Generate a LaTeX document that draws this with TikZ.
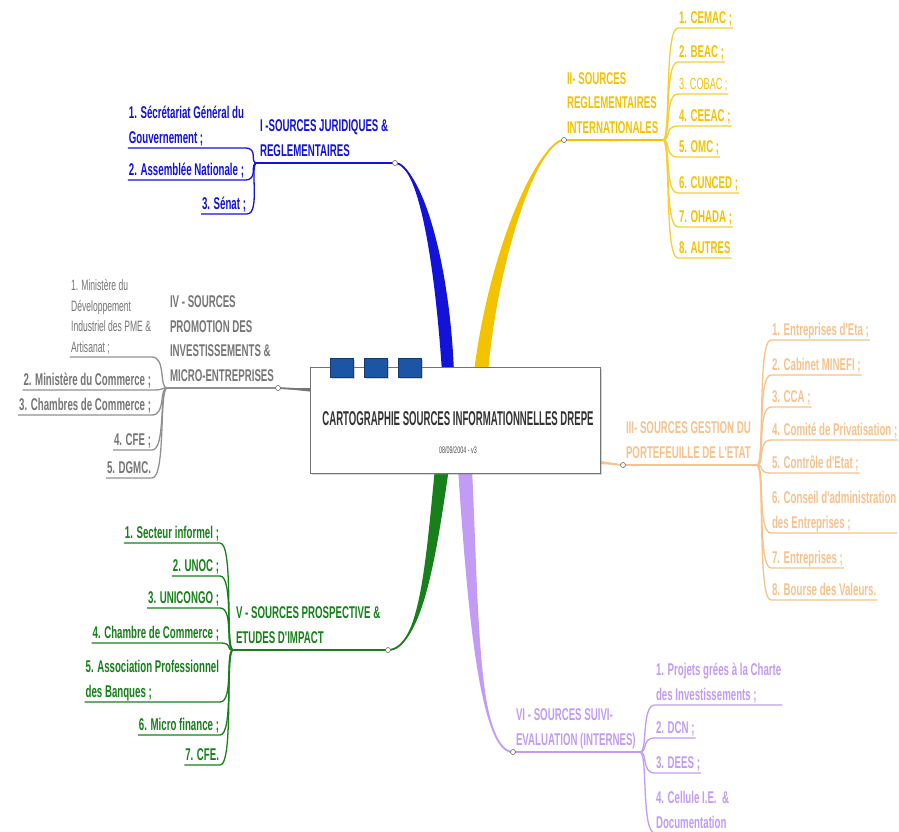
\documentclass[tikz,border=0pt]{standalone}
\usepackage{fontspec}
\setmainfont{Liberation Sans}
\newfontfamily\narrowfont[FakeStretch=0.57]{Liberation Sans}
\newfontfamily\titlenarrow[FakeStretch=0.48]{Liberation Sans}
\usetikzlibrary{positioning,shadows}

\definecolor{jurcol}{HTML}{1212D8}
\definecolor{intlcol}{HTML}{F4C300}
\definecolor{promocol}{HTML}{767676}
\definecolor{portcol}{HTML}{F8C28C}
\definecolor{prospcol}{HTML}{17801A}
\definecolor{suivicol}{HTML}{C29CF4}
\definecolor{tabblue}{HTML}{1C55A3}

\newcommand\leaffont{\narrowfont\bfseries\fontsize{17}{24.5}\selectfont}
\newcommand\smallleaf{\narrowfont\fontsize{15}{20.5}\selectfont}

\tikzset{
  leaf/.style={font=\leaffont, inner xsep=1pt, inner ysep=1pt, outer sep=0pt,
    execute at end node={\rule[-4pt]{0pt}{4pt}}},
  leafr/.style={leaf, anchor=south west, align=left},
  leafl/.style={leaf, anchor=south east},
  head/.style={leaf, anchor=south west, align=left,
    execute at end node={\rule[-6pt]{0pt}{6pt}}},
  twig/.style={line width=1.3pt},
  stem/.style={line width=1.8pt},
  knot/.style={circle, draw=black!60, fill=white, inner sep=0pt, minimum size=5pt, line width=0.6pt},
  tab/.style={draw=tabblue!70!black, fill=tabblue, minimum width=23pt, minimum height=19pt, inner sep=0pt,
    drop shadow={shadow xshift=1.5pt, shadow yshift=-1.5pt, opacity=.35}}
}

\begin{document}
\begin{tikzpicture}[x=1pt,y=-1pt]
\useasboundingbox[fill=white] (0,0) rectangle (899,831);

% anchor points of the six branches
\coordinate (jurdot) at (395,163);   \coordinate (jurfork) at (257,163);   \coordinate (jurroot) at (448,372);
\coordinate (intldot) at (564,140);  \coordinate (intlfork) at (663,140);  \coordinate (intlroot) at (481,372);
\coordinate (promodot) at (278,388); \coordinate (promofork) at (167,388); \coordinate (promoroot) at (314,390);
\coordinate (portdot) at (623,465);  \coordinate (portfork) at (757,465);  \coordinate (portroot) at (596,462);
\coordinate (prospdot) at (388,650); \coordinate (prospfork) at (233,650); \coordinate (prosproot) at (442,468);
\coordinate (suividot) at (513,752); \coordinate (suivifork) at (640,752); \coordinate (suiviroot) at (465,468);

% thick stems to the centre
\fill[jurcol] (jurdot) .. controls +(22,0) and +(-8,-120) .. ([xshift=-6pt]jurroot)
  -- ([xshift=6pt]jurroot) .. controls +(-5,-120) and +(24,2) .. (jurdot) -- cycle;
\fill[intlcol] (intldot) .. controls +(-24,0) and +(11,-122) .. ([xshift=7pt]intlroot)
  -- ([xshift=-7pt]intlroot) .. controls +(15,-122) and +(-27,2) .. (intldot) -- cycle;
\fill[prospcol] (prospdot) .. controls +(32,0) and +(-9,90) .. ([xshift=-7pt]prosproot)
  -- ([xshift=7pt]prosproot) .. controls +(-13,90) and +(34,-2) .. (prospdot) -- cycle;
\fill[suivicol] (suividot) .. controls +(-33,0) and +(10,150) .. ([xshift=-7pt]suiviroot)
  -- ([xshift=7pt]suiviroot) .. controls +(7,150) and +(-35,-2) .. (suividot) -- cycle;
\fill[promocol] (promodot) -- ([yshift=-2pt]promoroot) -- ([yshift=2pt]promoroot) -- cycle;
\fill[portcol] (portdot) -- ([yshift=-2pt]portroot) -- ([yshift=2pt]portroot) -- cycle;
\draw[jurcol, stem] (jurdot) .. controls +(22,0) and +(-6,-120) .. (jurroot);
\draw[intlcol, stem] (intldot) .. controls +(-24,0) and +(13,-122) .. (intlroot);
\draw[prospcol, stem] (prospdot) .. controls +(32,0) and +(-11,90) .. (prosproot);
\draw[suivicol, stem] (suividot) .. controls +(-33,0) and +(8,150) .. (suiviroot);
\draw[promocol, stem] (promodot) -- (promoroot);
\draw[portcol, stem] (portdot) -- (portroot);

% centre box
\node[draw=black!55, fill=white, minimum width=290pt, minimum height=106pt,
  drop shadow={shadow xshift=2pt, shadow yshift=-2pt, opacity=.3}] (map) at (455,420) {};
\node[tab] (tab1) at (341.5,367.5) {};
\node[tab] (tab2) at (376,367.5) {};
\node[tab] (tab3) at (409.5,367.5) {};
\node[font=\titlenarrow\bfseries\fontsize{20}{22}\selectfont, text=black!80] (maptitle) at (458,419)
  {CARTOGRAPHIE SOURCES INFORMATIONNELLES DREPE};
\node[font=\narrowfont\fontsize{9.5}{10}\selectfont, text=black!70] (mapdate) at (458,450) {08/09/2004 - v3};

% I - juridiques
\draw[jurcol, stem] (jurfork) -- (jurdot);
\node[head, text=jurcol] (jurhead) at ([xshift=2pt]jurfork) {I -SOURCES JURIDIQUES \&\\REGLEMENTAIRES};
\node[leafl, align=left, text=jurcol] (jur1) at (245,148) {1. Sécrétariat Général du\\Gouvernement ;};
\node[leafl, text=jurcol] (jur2) at (245,180) {2. Assemblée Nationale ;};
\node[leafl, text=jurcol] (jur3) at (247,214) {3. Sénat ;};
\foreach \i in {1,...,3}
  \draw[jurcol, twig] (jurfork) .. controls +(-8,0) and +(14,0) .. (jur\i.south east) -- (jur\i.south west);

% II - internationales
\draw[intlcol, stem] (intldot) -- (intlfork);
\node[head, text=intlcol] (intlhead) at ([xshift=2pt]intldot) {II- SOURCES\\REGLEMENTAIRES\\INTERNATIONALES};
\node[leafr, text=intlcol] (intl1) at (678,28) {1. CEMAC ;};
\node[leafr, text=intlcol] (intl2) at (678,62) {2. BEAC ;};
\node[leafr, text=intlcol, font=\narrowfont\fontsize{16}{20}\selectfont] (intl3) at (678,94) {3. COBAC ;};
\node[leafr, text=intlcol] (intl4) at (678,126) {4. CEEAC ;};
\node[leafr, text=intlcol] (intl5) at (678,157) {5. OMC ;};
\node[leafr, text=intlcol] (intl6) at (678,193) {6. CUNCED ;};
\node[leafr, text=intlcol] (intl7) at (678,227) {7. OHADA ;};
\node[leafr, text=intlcol] (intl8) at (678,258) {8. AUTRES};
\foreach \i in {1,...,8}
  \draw[intlcol!80, twig] (intlfork) .. controls +(8,0) and +(-14,0) .. (intl\i.south west) -- (intl\i.south east);

% IV - promotion
\draw[promocol!80, stem] (promofork) -- (promodot);
\node[head, text=promocol] (promohead) at ([xshift=2pt]promofork)
  {IV - SOURCES\\PROMOTION DES\\INVESTISSEMENTS \&\\MICRO-ENTREPRISES};
\node[leafl, align=left, text=promocol, font=\smallleaf] (promo1) at (152,357)
  {1. Ministère du\\Développement\\Industriel des PME \&\\Artisanat ;};
\node[leafl, text=promocol] (promo2) at (152,390) {2. Ministère du Commerce ;};
\node[leafl, text=promocol] (promo3) at (152,415) {3. Chambres de Commerce ;};
\node[leafl, text=promocol] (promo4) at (152,450) {4. CFE ;};
\node[leafl, text=promocol] (promo5) at (152,478) {5. DGMC.};
\foreach \i in {1,...,5}
  \draw[promocol!80, twig] (promofork) .. controls +(-8,0) and +(14,0) .. (promo\i.south east) -- (promo\i.south west);

% III - portefeuille
\draw[portcol, stem] (portdot) -- (portfork);
\node[head, text=portcol] (porthead) at ([xshift=2pt]portdot) {III- SOURCES GESTION DU\\PORTEFEUILLE DE L'ETAT};
\node[leafr, text=portcol] (port1) at (771,340) {1. Entreprises d'Eta ;};
\node[leafr, text=portcol] (port2) at (771,375) {2. Cabinet MINEFI ;};
\node[leafr, text=portcol] (port3) at (771,407) {3. CCA ;};
\node[leafr, text=portcol] (port4) at (771,440) {4. Comité de Privatisation ;};
\node[leafr, text=portcol] (port5) at (771,473) {5. Contrôle d'Etat ;};
\node[leafr, text=portcol] (port6) at (771,533) {6. Conseil d'administration\\des Entreprises ;};
\node[leafr, text=portcol] (port7) at (771,568) {7. Entreprises ;};
\node[leafr, text=portcol] (port8) at (771,600) {8. Bourse des Valeurs.};
\foreach \i in {1,...,8}
  \draw[portcol, twig] (portfork) .. controls +(8,0) and +(-14,0) .. (port\i.south west) -- (port\i.south east);

% V - prospective
\draw[prospcol, stem] (prospfork) -- (prospdot);
\node[head, text=prospcol] (prosphead) at ([xshift=2pt]prospfork) {V - SOURCES PROSPECTIVE \&\\ETUDES D'IMPACT};
\node[leafl, text=prospcol] (prosp1) at (220,543) {1. Secteur informel ;};
\node[leafl, text=prospcol] (prosp2) at (220,576) {2. UNOC ;};
\node[leafl, text=prospcol] (prosp3) at (220,608) {3. UNICONGO ;};
\node[leafl, text=prospcol] (prosp4) at (220,643) {4. Chambre de Commerce ;};
\node[leafl, align=left, text=prospcol] (prosp5) at (220,702) {5. Association Professionnel\\des Banques ;};
\node[leafl, text=prospcol] (prosp6) at (220,735) {6. Micro finance ;};
\node[leafl, text=prospcol] (prosp7) at (220,765) {7. CFE.};
\foreach \i in {1,...,7}
  \draw[prospcol, twig] (prospfork) .. controls +(-8,0) and +(14,0) .. (prosp\i.south east) -- (prosp\i.south west);

% VI - suivi
\draw[suivicol, stem] (suividot) -- (suivifork);
\node[head, text=suivicol] (suivihead) at ([xshift=2pt]suividot) {VI - SOURCES SUIVI-\\EVALUATION (INTERNES)};
\node[leafr, text=suivicol] (suivi1) at (655,705) {1. Projets grées à la Charte\\des Investissements ;};
\node[leafr, text=suivicol] (suivi2) at (655,738) {2. DCN ;};
\node[leafr, text=suivicol] (suivi3) at (655,773) {3. DEES ;};
\node[leafr, text=suivicol] (suivi4) at (655,833) {4. Cellule I.E.~~\&\\Documentation};
\foreach \i in {1,...,4}
  \draw[suivicol, twig] (suivifork) .. controls +(8,0) and +(-14,0) .. (suivi\i.south west) -- (suivi\i.south east);

% knots
\foreach \k in {jur,intl,promo,port,prosp,suivi}
  \node[knot] at (\k dot) {};
\end{tikzpicture}
\end{document}
